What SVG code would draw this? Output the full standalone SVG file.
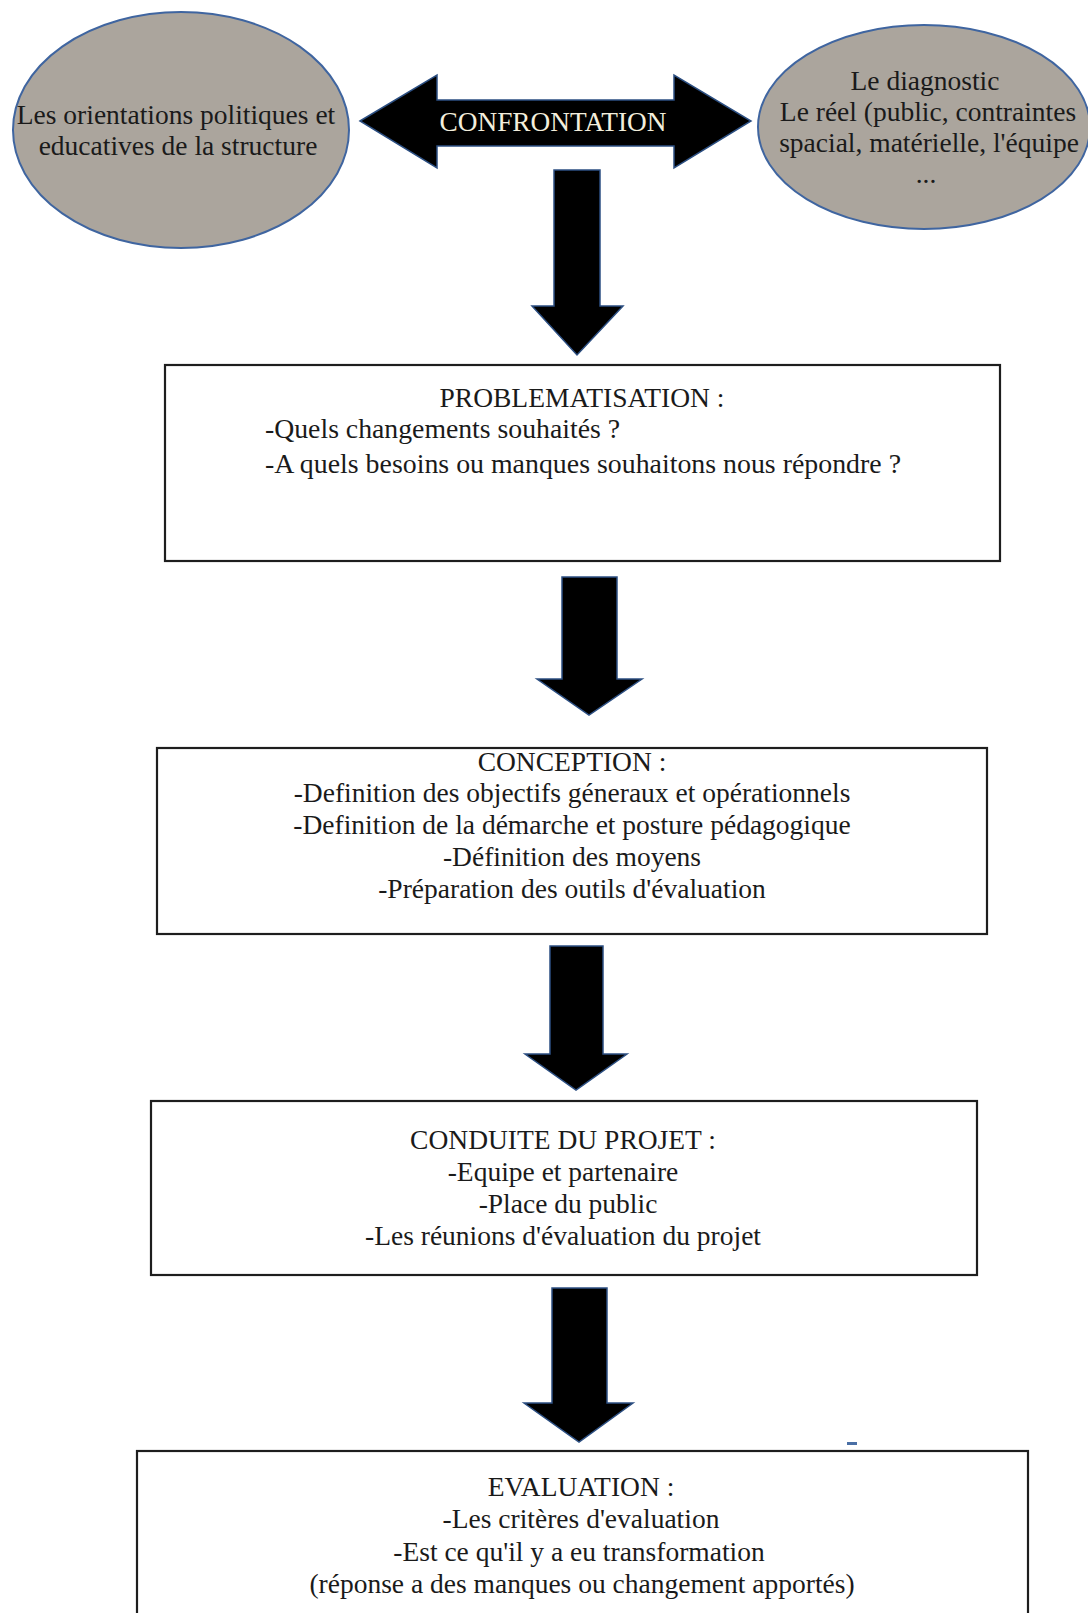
<svg xmlns="http://www.w3.org/2000/svg" width="1088" height="1613" viewBox="0 0 1088 1613">
<style>
.bg{fill:#ffffff}
.ell{fill:#aba59d;stroke:#3f65a0;stroke-width:2}
.box{fill:#ffffff;stroke:#1e1e1e;stroke-width:2.2}
.arr{fill:#000000;stroke:#2c4f82;stroke-width:1.5;stroke-linejoin:miter}
.t{font-family:"Liberation Serif","Times New Roman",serif;font-size:27.5px;fill:#1a1a1a;text-anchor:middle}
.tl{font-family:"Liberation Serif","Times New Roman",serif;font-size:27.5px;fill:#1a1a1a;text-anchor:start}
.tc{font-family:"Liberation Serif","Times New Roman",serif;font-size:27px;fill:#f3eedc;text-anchor:middle}
</style>
<rect class="bg" x="0" y="0" width="1088" height="1613"/>

<g id="orientations">
<ellipse class="ell" cx="181" cy="130" rx="168" ry="118"/>
<text class="t" x="176" y="124">Les orientations politiques et</text>
<text class="t" x="178" y="155">educatives de la structure</text>
</g>

<g id="diagnostic">
<ellipse class="ell" cx="924" cy="127" rx="166" ry="102"/>
<text class="t" x="925" y="90">Le diagnostic</text>
<text class="t" x="928" y="121">Le réel (public, contraintes</text>
<text class="t" x="929" y="152">spacial, matérielle, l'équipe</text>
<text class="t" x="926" y="183">...</text>
</g>

<g id="connectors">
<g id="confrontation">
<path class="arr" d="M360,121 L437,75 L437,100 L674,100 L674,75 L751,121 L674,168 L674,146 L437,146 L437,168 Z"/>
<text class="tc" x="553" y="131" textLength="227" lengthAdjust="spacingAndGlyphs">CONFRONTATION</text>
</g>
<path class="arr" d="M554,170 L600,170 L600,306 L623,306 L577,355 L532,306 L554,306 Z"/>
<path class="arr" d="M562,577 L617,577 L617,679 L642,679 L589,715 L537,679 L562,679 Z"/>
<path class="arr" d="M550,946 L603,946 L603,1054 L627,1054 L576,1090 L525,1054 L550,1054 Z"/>
<path class="arr" d="M552,1288 L607,1288 L607,1403 L633,1403 L579,1442 L524,1403 L552,1403 Z"/>
</g>

<g id="problematisation">
<rect class="box" x="165" y="365" width="835" height="196"/>
<text class="t" x="582" y="407">PROBLEMATISATION :</text>
<text class="tl" x="265" y="438" textLength="355" lengthAdjust="spacingAndGlyphs">-Quels changements souhaités ?</text>
<text class="tl" x="265" y="473" textLength="636" lengthAdjust="spacingAndGlyphs">-A quels besoins ou manques souhaitons nous répondre ?</text>
</g>

<g id="conception">
<rect class="box" x="157" y="748" width="830" height="186"/>
<text class="t" x="572" y="771">CONCEPTION :</text>
<text class="t" x="572" y="802">-Definition des objectifs géneraux et opérationnels</text>
<text class="t" x="572" y="834">-Definition de la démarche et posture pédagogique</text>
<text class="t" x="572" y="866">-Définition des moyens</text>
<text class="t" x="572" y="898">-Préparation des outils d'évaluation</text>
</g>

<g id="conduite">
<rect class="box" x="151" y="1101" width="826" height="174"/>
<text class="t" x="563" y="1149">CONDUITE DU PROJET :</text>
<text class="t" x="563" y="1181">-Equipe et partenaire</text>
<text class="t" x="568" y="1213">-Place du public</text>
<text class="t" x="563" y="1245">-Les réunions d'évaluation du projet</text>
</g>

<g id="evaluation">
<rect class="box" x="137" y="1451" width="891" height="180"/>
<text class="t" x="581" y="1496">EVALUATION :</text>
<text class="t" x="581" y="1528">-Les critères d'evaluation</text>
<text class="t" x="579" y="1561">-Est ce qu'il y a eu transformation</text>
<text class="t" x="582" y="1593">(réponse a des manques ou changement apportés)</text>
</g>

<rect x="847" y="1442" width="10" height="3" fill="#4a6fa5"/>
</svg>
